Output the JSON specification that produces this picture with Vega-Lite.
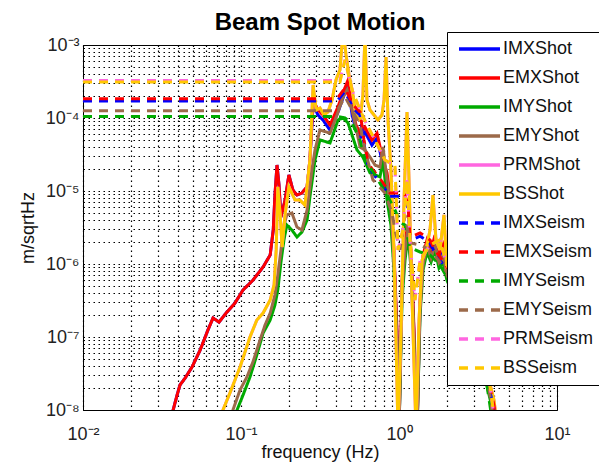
{
"$schema":"https://vega.github.io/schema/vega-lite/v6.json",
"autosize":{"type":"none"},
"padding":{"left":83,"top":45,"right":42,"bottom":53},
"width":474,"height":365,
"background":"#ffffff",
"title":{"text":"Beam Spot Motion","fontSize":24,"fontWeight":"bold","font":"Liberation Sans","color":"#000000","offset":17,"dy":20,"anchor":"middle"},
"config":{"view":{"stroke":"#000000","strokeWidth":1},
"axis":{"labelFont":"Liberation Sans","titleFont":"Liberation Sans","labelFontSize":18,"titleFontSize":18,"titleFontWeight":"normal","labelColor":"#222222","titleColor":"#111111","domainColor":"#000000","grid":true,"gridColor":"#000000","gridOpacity":1,"gridDash":[1.5,3.5],"gridWidth":1.2,"ticks":false,"tickSize":0,"labelOverlap":false,"labelFlush":false,"labelBound":false}},
"data":{"values":[
{"s":"IMXShot","f":0.0356,"v":6e-9},{"s":"IMXShot","f":0.0372,"v":1e-8},{"s":"IMXShot","f":0.0394,"v":1.6e-8},{"s":"IMXShot","f":0.0411,"v":2.2e-8},{"s":"IMXShot","f":0.0443,"v":2.74e-8},{"s":"IMXShot","f":0.049,"v":3.88e-8},{"s":"IMXShot","f":0.0551,"v":6.6e-8},{"s":"IMXShot","f":0.0618,"v":1.25e-7},{"s":"IMXShot","f":0.0665,"v":1.82e-7},{"s":"IMXShot","f":0.0726,"v":1.6e-7},{"s":"IMXShot","f":0.0815,"v":2.2e-7},{"s":"IMXShot","f":0.0916,"v":2.92e-7},{"s":"IMXShot","f":0.103,"v":4.4e-7},{"s":"IMXShot","f":0.119,"v":6e-7},{"s":"IMXShot","f":0.138,"v":9.1e-7},{"s":"IMXShot","f":0.153,"v":1.33e-6},{"s":"IMXShot","f":0.16,"v":2.92e-6},{"s":"IMXShot","f":0.164,"v":8.8e-6},{"s":"IMXShot","f":0.169,"v":2.27e-5},{"s":"IMXShot","f":0.174,"v":1.2e-5},{"s":"IMXShot","f":0.179,"v":4.4e-6},{"s":"IMXShot","f":0.19,"v":7.5e-6},{"s":"IMXShot","f":0.201,"v":1.66e-5},{"s":"IMXShot","f":0.213,"v":1.03e-5},{"s":"IMXShot","f":0.226,"v":8.8e-6},{"s":"IMXShot","f":0.243,"v":9.4e-6},{"s":"IMXShot","f":0.262,"v":1.14e-5},{"s":"IMXShot","f":0.273,"v":2.66e-5},{"s":"IMXShot","f":0.286,"v":1.5e-4},{"s":"IMXShot","f":0.307,"v":1.1e-4},{"s":"IMXShot","f":0.33,"v":9.4e-5},{"s":"IMXShot","f":0.366,"v":6.8e-5},{"s":"IMXShot","f":0.411,"v":1.2e-4},{"s":"IMXShot","f":0.449,"v":2.06e-4},{"s":"IMXShot","f":0.476,"v":2.8e-4},{"s":"IMXShot","f":0.505,"v":1.1e-4},{"s":"IMXShot","f":0.535,"v":6.8e-5},{"s":"IMXShot","f":0.567,"v":5.3e-5},{"s":"IMXShot","f":0.609,"v":6.4e-5},{"s":"IMXShot","f":0.674,"v":4.25e-5},{"s":"IMXShot","f":0.726,"v":5.3e-5},{"s":"IMXShot","f":0.792,"v":2.26e-5},{"s":"IMXShot","f":0.84,"v":1.5e-5},{"s":"IMXShot","f":0.889,"v":6.4e-6},{"s":"IMXShot","f":0.929,"v":1.33e-6},{"s":"IMXShot","f":0.971,"v":1.06e-7},{"s":"IMXShot","f":1.0,"v":5e-9},{"s":"IMXShot","f":1.045,"v":5.1e-7},{"s":"IMXShot","f":1.092,"v":1.8e-6},{"s":"IMXShot","f":1.14,"v":2.9e-6},{"s":"IMXShot","f":1.191,"v":1.33e-6},{"s":"IMXShot","f":1.245,"v":1.06e-7},{"s":"IMXShot","f":1.3,"v":5e-9},{"s":"IMXShot","f":1.359,"v":2.73e-7},{"s":"IMXShot","f":1.42,"v":1.13e-6},{"s":"IMXShot","f":1.504,"v":1.8e-6},{"s":"IMXShot","f":1.595,"v":1.33e-6},{"s":"IMXShot","f":1.69,"v":2.12e-6},{"s":"IMXShot","f":1.791,"v":1.13e-6},{"s":"IMXShot","f":1.898,"v":1.55e-6},{"s":"IMXShot","f":2.01,"v":8.2e-7},{"s":"IMXShot","f":2.16,"v":5.1e-7},{"s":"IMXShot","f":2.43,"v":2.73e-7},{"s":"IMXShot","f":2.81,"v":1.45e-7},{"s":"IMXShot","f":3.26,"v":7.7e-8},{"s":"IMXShot","f":3.66,"v":2.55e-8},{"s":"IMXShot","f":3.93,"v":1.16e-8},{"s":"IMXShot","f":4.17,"v":5e-9},

{"s":"EMXShot","f":0.0356,"v":6e-9},{"s":"EMXShot","f":0.0372,"v":1e-8},{"s":"EMXShot","f":0.0394,"v":1.6e-8},{"s":"EMXShot","f":0.0411,"v":2.2e-8},{"s":"EMXShot","f":0.0443,"v":2.74e-8},{"s":"EMXShot","f":0.049,"v":3.88e-8},{"s":"EMXShot","f":0.0551,"v":6.6e-8},{"s":"EMXShot","f":0.0618,"v":1.25e-7},{"s":"EMXShot","f":0.0665,"v":1.82e-7},{"s":"EMXShot","f":0.0726,"v":1.6e-7},{"s":"EMXShot","f":0.0815,"v":2.2e-7},{"s":"EMXShot","f":0.0916,"v":2.92e-7},{"s":"EMXShot","f":0.103,"v":4.4e-7},{"s":"EMXShot","f":0.119,"v":6e-7},{"s":"EMXShot","f":0.138,"v":9.1e-7},{"s":"EMXShot","f":0.153,"v":1.33e-6},{"s":"EMXShot","f":0.16,"v":2.92e-6},{"s":"EMXShot","f":0.164,"v":8.8e-6},{"s":"EMXShot","f":0.169,"v":2.27e-5},{"s":"EMXShot","f":0.174,"v":1.2e-5},{"s":"EMXShot","f":0.179,"v":4.4e-6},{"s":"EMXShot","f":0.19,"v":7.5e-6},{"s":"EMXShot","f":0.201,"v":1.66e-5},{"s":"EMXShot","f":0.213,"v":1.03e-5},{"s":"EMXShot","f":0.226,"v":8.8e-6},{"s":"EMXShot","f":0.243,"v":9.4e-6},{"s":"EMXShot","f":0.262,"v":1.14e-5},{"s":"EMXShot","f":0.273,"v":2.66e-5},{"s":"EMXShot","f":0.286,"v":1.77e-4},{"s":"EMXShot","f":0.307,"v":1.29e-4},{"s":"EMXShot","f":0.33,"v":1.1e-4},{"s":"EMXShot","f":0.366,"v":8e-5},{"s":"EMXShot","f":0.411,"v":1.42e-4},{"s":"EMXShot","f":0.449,"v":2.42e-4},{"s":"EMXShot","f":0.476,"v":3.32e-4},{"s":"EMXShot","f":0.505,"v":1.29e-4},{"s":"EMXShot","f":0.535,"v":8e-5},{"s":"EMXShot","f":0.567,"v":6.2e-5},{"s":"EMXShot","f":0.609,"v":7.5e-5},{"s":"EMXShot","f":0.674,"v":5e-5},{"s":"EMXShot","f":0.726,"v":6.2e-5},{"s":"EMXShot","f":0.792,"v":2.66e-5},{"s":"EMXShot","f":0.84,"v":1.77e-5},{"s":"EMXShot","f":0.889,"v":7.5e-6},{"s":"EMXShot","f":0.929,"v":1.56e-6},{"s":"EMXShot","f":0.971,"v":1.25e-7},{"s":"EMXShot","f":1.0,"v":5e-9},{"s":"EMXShot","f":1.045,"v":6e-7},{"s":"EMXShot","f":1.092,"v":2.13e-6},{"s":"EMXShot","f":1.14,"v":3.42e-6},{"s":"EMXShot","f":1.191,"v":1.56e-6},{"s":"EMXShot","f":1.245,"v":1.25e-7},{"s":"EMXShot","f":1.3,"v":5e-9},{"s":"EMXShot","f":1.359,"v":3.21e-7},{"s":"EMXShot","f":1.42,"v":1.33e-6},{"s":"EMXShot","f":1.504,"v":2.13e-6},{"s":"EMXShot","f":1.595,"v":1.56e-6},{"s":"EMXShot","f":1.69,"v":2.49e-6},{"s":"EMXShot","f":1.791,"v":1.33e-6},{"s":"EMXShot","f":1.898,"v":1.82e-6},{"s":"EMXShot","f":2.01,"v":9.7e-7},{"s":"EMXShot","f":2.16,"v":6e-7},{"s":"EMXShot","f":2.43,"v":3.21e-7},{"s":"EMXShot","f":2.81,"v":1.71e-7},{"s":"EMXShot","f":3.26,"v":9.1e-8},{"s":"EMXShot","f":3.66,"v":3e-8},{"s":"EMXShot","f":3.93,"v":1.37e-8},{"s":"EMXShot","f":4.17,"v":5e-9},

{"s":"IMYShot","f":0.0904,"v":5e-9},{"s":"IMYShot","f":0.0944,"v":1e-8},{"s":"IMYShot","f":0.103,"v":1.6e-8},{"s":"IMYShot","f":0.114,"v":2.83e-8},{"s":"IMYShot","f":0.126,"v":5.7e-8},{"s":"IMYShot","f":0.138,"v":1.13e-7},{"s":"IMYShot","f":0.153,"v":1.71e-7},{"s":"IMYShot","f":0.164,"v":2.74e-7},{"s":"IMYShot","f":0.171,"v":4.4e-7},{"s":"IMYShot","f":0.179,"v":1.06e-6},{"s":"IMYShot","f":0.187,"v":2.13e-6},{"s":"IMYShot","f":0.195,"v":3.42e-6},{"s":"IMYShot","f":0.21,"v":2.92e-6},{"s":"IMYShot","f":0.226,"v":2.34e-6},{"s":"IMYShot","f":0.243,"v":2.74e-6},{"s":"IMYShot","f":0.262,"v":4e-6},{"s":"IMYShot","f":0.273,"v":8.3e-6},{"s":"IMYShot","f":0.294,"v":2.66e-5},{"s":"IMYShot","f":0.316,"v":5e-5},{"s":"IMYShot","f":0.366,"v":4.55e-5},{"s":"IMYShot","f":0.411,"v":9.4e-5},{"s":"IMYShot","f":0.443,"v":1e-4},{"s":"IMYShot","f":0.476,"v":8.55e-5},{"s":"IMYShot","f":0.542,"v":3.65e-5},{"s":"IMYShot","f":0.591,"v":2.92e-5},{"s":"IMYShot","f":0.655,"v":1.77e-5},{"s":"IMYShot","f":0.758,"v":1.56e-5},{"s":"IMYShot","f":0.792,"v":2.66e-5},{"s":"IMYShot","f":0.84,"v":7.5e-6},{"s":"IMYShot","f":0.889,"v":3.42e-6},{"s":"IMYShot","f":0.929,"v":8.3e-7},{"s":"IMYShot","f":0.971,"v":7.8e-8},{"s":"IMYShot","f":1.0,"v":5e-9},{"s":"IMYShot","f":1.045,"v":3.21e-7},{"s":"IMYShot","f":1.092,"v":1.13e-6},{"s":"IMYShot","f":1.14,"v":2.49e-6},{"s":"IMYShot","f":1.191,"v":8.8e-7},{"s":"IMYShot","f":1.245,"v":7.8e-8},{"s":"IMYShot","f":1.3,"v":5e-9},{"s":"IMYShot","f":1.359,"v":2e-7},{"s":"IMYShot","f":1.42,"v":8.3e-7},{"s":"IMYShot","f":1.504,"v":1.46e-6},{"s":"IMYShot","f":1.595,"v":1.06e-6},{"s":"IMYShot","f":1.69,"v":1.56e-6},{"s":"IMYShot","f":1.791,"v":8.8e-7},{"s":"IMYShot","f":1.898,"v":1.06e-6},{"s":"IMYShot","f":2.01,"v":6e-7},{"s":"IMYShot","f":2.43,"v":2.34e-7},{"s":"IMYShot","f":2.81,"v":1.25e-7},{"s":"IMYShot","f":3.26,"v":5.7e-8},{"s":"IMYShot","f":3.6,"v":2.2e-8},{"s":"IMYShot","f":3.88,"v":1.06e-8},{"s":"IMYShot","f":4.05,"v":5e-9},

{"s":"EMYShot","f":0.0865,"v":5e-9},{"s":"EMYShot","f":0.0889,"v":1e-8},{"s":"EMYShot","f":0.0986,"v":1.88e-8},{"s":"EMYShot","f":0.109,"v":2.83e-8},{"s":"EMYShot","f":0.119,"v":4.55e-8},{"s":"EMYShot","f":0.132,"v":9.1e-8},{"s":"EMYShot","f":0.142,"v":1.46e-7},{"s":"EMYShot","f":0.153,"v":2.13e-7},{"s":"EMYShot","f":0.164,"v":3.76e-7},{"s":"EMYShot","f":0.171,"v":7.1e-7},{"s":"EMYShot","f":0.179,"v":1.56e-6},{"s":"EMYShot","f":0.187,"v":3.42e-6},{"s":"EMYShot","f":0.195,"v":4.7e-6},{"s":"EMYShot","f":0.21,"v":5e-6},{"s":"EMYShot","f":0.226,"v":3.21e-6},{"s":"EMYShot","f":0.243,"v":2.92e-6},{"s":"EMYShot","f":0.262,"v":5.5e-6},{"s":"EMYShot","f":0.281,"v":1.94e-5},{"s":"EMYShot","f":0.294,"v":3.65e-5},{"s":"EMYShot","f":0.316,"v":6.85e-5},{"s":"EMYShot","f":0.366,"v":6.2e-5},{"s":"EMYShot","f":0.405,"v":1.1e-4},{"s":"EMYShot","f":0.443,"v":1.94e-4},{"s":"EMYShot","f":0.469,"v":2.42e-4},{"s":"EMYShot","f":0.505,"v":1.29e-4},{"s":"EMYShot","f":0.567,"v":4e-5},{"s":"EMYShot","f":0.609,"v":3.65e-5},{"s":"EMYShot","f":0.655,"v":2.92e-5},{"s":"EMYShot","f":0.705,"v":2.27e-5},{"s":"EMYShot","f":0.758,"v":2.13e-5},{"s":"EMYShot","f":0.792,"v":4e-5},{"s":"EMYShot","f":0.84,"v":1.42e-5},{"s":"EMYShot","f":0.889,"v":5.5e-6},{"s":"EMYShot","f":0.929,"v":1.13e-6},{"s":"EMYShot","f":0.971,"v":9.1e-8},{"s":"EMYShot","f":1.0,"v":5e-9},{"s":"EMYShot","f":1.045,"v":4.4e-7},{"s":"EMYShot","f":1.092,"v":1.56e-6},{"s":"EMYShot","f":1.14,"v":3.11e-6},{"s":"EMYShot","f":1.191,"v":1.13e-6},{"s":"EMYShot","f":1.245,"v":9.1e-8},{"s":"EMYShot","f":1.3,"v":5e-9},{"s":"EMYShot","f":1.359,"v":2.34e-7},{"s":"EMYShot","f":1.42,"v":9.7e-7},{"s":"EMYShot","f":1.504,"v":1.82e-6},{"s":"EMYShot","f":1.595,"v":1.21e-6},{"s":"EMYShot","f":1.69,"v":1.82e-6},{"s":"EMYShot","f":1.791,"v":1.06e-6},{"s":"EMYShot","f":1.898,"v":1.33e-6},{"s":"EMYShot","f":2.01,"v":7.1e-7},{"s":"EMYShot","f":2.43,"v":2.74e-7},{"s":"EMYShot","f":2.81,"v":1.46e-7},{"s":"EMYShot","f":3.26,"v":6.6e-8},{"s":"EMYShot","f":3.66,"v":2.58e-8},{"s":"EMYShot","f":3.88,"v":1.17e-8},{"s":"EMYShot","f":4.05,"v":5e-9},

{"s":"PRMShot","f":0.0747,"v":5e-9},{"s":"PRMShot","f":0.0769,"v":1e-8},{"s":"PRMShot","f":0.0851,"v":1.71e-8},{"s":"PRMShot","f":0.0986,"v":3.88e-8},{"s":"PRMShot","f":0.114,"v":1e-7},{"s":"PRMShot","f":0.126,"v":1.71e-7},{"s":"PRMShot","f":0.138,"v":2.13e-7},{"s":"PRMShot","f":0.153,"v":3.21e-7},{"s":"PRMShot","f":0.162,"v":5.2e-7},{"s":"PRMShot","f":0.167,"v":1.56e-6},{"s":"PRMShot","f":0.171,"v":1.14e-5},{"s":"PRMShot","f":0.177,"v":4.7e-6},{"s":"PRMShot","f":0.182,"v":1.71e-6},{"s":"PRMShot","f":0.19,"v":4.7e-6},{"s":"PRMShot","f":0.201,"v":1.14e-5},{"s":"PRMShot","f":0.22,"v":7.5e-6},{"s":"PRMShot","f":0.236,"v":7.5e-6},{"s":"PRMShot","f":0.254,"v":6.4e-6},{"s":"PRMShot","f":0.273,"v":2.66e-5},{"s":"PRMShot","f":0.286,"v":2.83e-4},{"s":"PRMShot","f":0.299,"v":1.29e-4},{"s":"PRMShot","f":0.316,"v":1.37e-4},{"s":"PRMShot","f":0.335,"v":1.1e-4},{"s":"PRMShot","f":0.355,"v":1.21e-4},{"s":"PRMShot","f":0.377,"v":1.77e-4},{"s":"PRMShot","f":0.399,"v":3.32e-4},{"s":"PRMShot","f":0.423,"v":4.55e-4},{"s":"PRMShot","f":0.443,"v":1.6e-3},{"s":"PRMShot","f":0.462,"v":7.3e-4},{"s":"PRMShot","f":0.483,"v":3.88e-4},{"s":"PRMShot","f":0.505,"v":2.42e-4},{"s":"PRMShot","f":0.535,"v":1.1e-4},{"s":"PRMShot","f":0.567,"v":9.4e-5},{"s":"PRMShot","f":0.591,"v":2.07e-4},{"s":"PRMShot","f":0.609,"v":1.37e-3},{"s":"PRMShot","f":0.627,"v":1.77e-4},{"s":"PRMShot","f":0.655,"v":1.29e-4},{"s":"PRMShot","f":0.695,"v":1.1e-4},{"s":"PRMShot","f":0.736,"v":9.4e-5},{"s":"PRMShot","f":0.78,"v":1.1e-4},{"s":"PRMShot","f":0.804,"v":1.77e-4},{"s":"PRMShot","f":0.828,"v":6.86e-4},{"s":"PRMShot","f":0.852,"v":9.4e-5},{"s":"PRMShot","f":0.889,"v":1.94e-5},{"s":"PRMShot","f":0.929,"v":1.56e-6},{"s":"PRMShot","f":0.986,"v":5e-9},{"s":"PRMShot","f":1.03,"v":1.25e-7},{"s":"PRMShot","f":1.076,"v":7.5e-6},{"s":"PRMShot","f":1.124,"v":1.21e-4},{"s":"PRMShot","f":1.157,"v":1.42e-5},{"s":"PRMShot","f":1.21,"v":3.21e-7},{"s":"PRMShot","f":1.282,"v":5e-9},{"s":"PRMShot","f":1.339,"v":1.71e-7},{"s":"PRMShot","f":1.4,"v":1.13e-6},{"s":"PRMShot","f":1.483,"v":1.56e-6},{"s":"PRMShot","f":1.571,"v":2.92e-6},{"s":"PRMShot","f":1.64,"v":8.8e-6},{"s":"PRMShot","f":1.714,"v":2.13e-6},{"s":"PRMShot","f":1.816,"v":1.56e-6},{"s":"PRMShot","f":1.926,"v":4.7e-6},{"s":"PRMShot","f":2.01,"v":8.3e-7},{"s":"PRMShot","f":2.43,"v":4.4e-7},{"s":"PRMShot","f":2.81,"v":2e-7},{"s":"PRMShot","f":3.26,"v":7.8e-8},{"s":"PRMShot","f":3.71,"v":2.58e-8},{"s":"PRMShot","f":3.99,"v":1.37e-8},{"s":"PRMShot","f":4.24,"v":5e-9},

{"s":"BSShot","f":0.0747,"v":5e-9},{"s":"BSShot","f":0.0769,"v":1e-8},{"s":"BSShot","f":0.0851,"v":1.71e-8},{"s":"BSShot","f":0.0986,"v":3.88e-8},{"s":"BSShot","f":0.114,"v":1e-7},{"s":"BSShot","f":0.126,"v":1.71e-7},{"s":"BSShot","f":0.138,"v":2.13e-7},{"s":"BSShot","f":0.153,"v":3.21e-7},{"s":"BSShot","f":0.162,"v":5.2e-7},{"s":"BSShot","f":0.167,"v":1.56e-6},{"s":"BSShot","f":0.171,"v":1.14e-5},{"s":"BSShot","f":0.177,"v":4.7e-6},{"s":"BSShot","f":0.182,"v":1.71e-6},{"s":"BSShot","f":0.19,"v":4.7e-6},{"s":"BSShot","f":0.201,"v":1.14e-5},{"s":"BSShot","f":0.22,"v":7.5e-6},{"s":"BSShot","f":0.236,"v":7.5e-6},{"s":"BSShot","f":0.254,"v":6.4e-6},{"s":"BSShot","f":0.273,"v":2.66e-5},{"s":"BSShot","f":0.286,"v":2.83e-4},{"s":"BSShot","f":0.299,"v":1.29e-4},{"s":"BSShot","f":0.316,"v":1.37e-4},{"s":"BSShot","f":0.335,"v":1.1e-4},{"s":"BSShot","f":0.355,"v":1.21e-4},{"s":"BSShot","f":0.377,"v":1.77e-4},{"s":"BSShot","f":0.399,"v":3.32e-4},{"s":"BSShot","f":0.423,"v":4.55e-4},{"s":"BSShot","f":0.443,"v":1.6e-3},{"s":"BSShot","f":0.462,"v":7.3e-4},{"s":"BSShot","f":0.483,"v":3.88e-4},{"s":"BSShot","f":0.505,"v":2.42e-4},{"s":"BSShot","f":0.535,"v":1.1e-4},{"s":"BSShot","f":0.567,"v":9.4e-5},{"s":"BSShot","f":0.591,"v":2.07e-4},{"s":"BSShot","f":0.609,"v":1.37e-3},{"s":"BSShot","f":0.627,"v":1.77e-4},{"s":"BSShot","f":0.655,"v":1.29e-4},{"s":"BSShot","f":0.695,"v":1.1e-4},{"s":"BSShot","f":0.736,"v":9.4e-5},{"s":"BSShot","f":0.78,"v":1.1e-4},{"s":"BSShot","f":0.804,"v":1.77e-4},{"s":"BSShot","f":0.828,"v":6.86e-4},{"s":"BSShot","f":0.852,"v":9.4e-5},{"s":"BSShot","f":0.889,"v":1.94e-5},{"s":"BSShot","f":0.929,"v":1.56e-6},{"s":"BSShot","f":0.986,"v":5e-9},{"s":"BSShot","f":1.03,"v":1.25e-7},{"s":"BSShot","f":1.076,"v":7.5e-6},{"s":"BSShot","f":1.124,"v":1.21e-4},{"s":"BSShot","f":1.157,"v":1.42e-5},{"s":"BSShot","f":1.21,"v":3.21e-7},{"s":"BSShot","f":1.282,"v":5e-9},{"s":"BSShot","f":1.339,"v":1.71e-7},{"s":"BSShot","f":1.4,"v":1.13e-6},{"s":"BSShot","f":1.483,"v":1.56e-6},{"s":"BSShot","f":1.571,"v":2.92e-6},{"s":"BSShot","f":1.64,"v":8.8e-6},{"s":"BSShot","f":1.714,"v":2.13e-6},{"s":"BSShot","f":1.816,"v":1.56e-6},{"s":"BSShot","f":1.926,"v":4.7e-6},{"s":"BSShot","f":2.01,"v":8.3e-7},{"s":"BSShot","f":2.43,"v":4.4e-7},{"s":"BSShot","f":2.81,"v":2e-7},{"s":"BSShot","f":3.26,"v":7.8e-8},{"s":"BSShot","f":3.71,"v":2.58e-8},{"s":"BSShot","f":3.99,"v":1.37e-8},{"s":"BSShot","f":4.24,"v":5e-9},

{"s":"IMXSeism","f":0.01,"v":1.71e-4},{"s":"IMXSeism","f":0.405,"v":1.71e-4},{"s":"IMXSeism","f":0.455,"v":2.32e-4},{"s":"IMXSeism","f":0.512,"v":1.36e-4},{"s":"IMXSeism","f":0.567,"v":1.09e-4},{"s":"IMXSeism","f":0.6,"v":4.5e-5},{"s":"IMXSeism","f":0.637,"v":2.18e-5},{"s":"IMXSeism","f":0.684,"v":1.75e-5},{"s":"IMXSeism","f":0.792,"v":1.16e-5},{"s":"IMXSeism","f":0.877,"v":8.5e-6},{"s":"IMXSeism","f":0.971,"v":8.5e-6},{"s":"IMXSeism","f":1.092,"v":7.9e-6},{"s":"IMXSeism","f":1.14,"v":5.8e-6},{"s":"IMXSeism","f":1.174,"v":2.1e-6},{"s":"IMXSeism","f":1.262,"v":2.24e-6},{"s":"IMXSeism","f":1.359,"v":2.4e-6},{"s":"IMXSeism","f":1.461,"v":2.18e-6},{"s":"IMXSeism","f":1.571,"v":1.92e-6},{"s":"IMXSeism","f":1.69,"v":1.4e-6},{"s":"IMXSeism","f":1.816,"v":1.13e-6},{"s":"IMXSeism","f":2.01,"v":8.2e-7},{"s":"IMXSeism","f":2.43,"v":4e-7},{"s":"IMXSeism","f":3.03,"v":1.13e-7},{"s":"IMXSeism","f":3.66,"v":2.3e-8},{"s":"IMXSeism","f":3.99,"v":1.05e-8},{"s":"IMXSeism","f":4.17,"v":5e-9},

{"s":"EMXSeism","f":0.01,"v":1.84e-4},{"s":"EMXSeism","f":0.405,"v":1.84e-4},{"s":"EMXSeism","f":0.455,"v":2.58e-4},{"s":"EMXSeism","f":0.512,"v":1.51e-4},{"s":"EMXSeism","f":0.567,"v":1.21e-4},{"s":"EMXSeism","f":0.6,"v":5e-5},{"s":"EMXSeism","f":0.637,"v":2.42e-5},{"s":"EMXSeism","f":0.684,"v":1.94e-5},{"s":"EMXSeism","f":0.792,"v":1.29e-5},{"s":"EMXSeism","f":0.877,"v":9.4e-6},{"s":"EMXSeism","f":0.971,"v":9.4e-6},{"s":"EMXSeism","f":1.092,"v":8.8e-6},{"s":"EMXSeism","f":1.14,"v":6.4e-6},{"s":"EMXSeism","f":1.174,"v":2.34e-6},{"s":"EMXSeism","f":1.262,"v":2.49e-6},{"s":"EMXSeism","f":1.359,"v":2.66e-6},{"s":"EMXSeism","f":1.461,"v":2.42e-6},{"s":"EMXSeism","f":1.571,"v":2.13e-6},{"s":"EMXSeism","f":1.69,"v":1.56e-6},{"s":"EMXSeism","f":1.816,"v":1.25e-6},{"s":"EMXSeism","f":2.01,"v":9.1e-7},{"s":"EMXSeism","f":2.43,"v":4.4e-7},{"s":"EMXSeism","f":3.03,"v":1.25e-7},{"s":"EMXSeism","f":3.66,"v":2.58e-8},{"s":"EMXSeism","f":3.99,"v":1.17e-8},{"s":"EMXSeism","f":4.17,"v":5e-9},

{"s":"IMYSeism","f":0.01,"v":1.05e-4},{"s":"IMYSeism","f":0.405,"v":1.05e-4},{"s":"IMYSeism","f":0.455,"v":1e-4},{"s":"IMYSeism","f":0.505,"v":8.5e-5},{"s":"IMYSeism","f":0.567,"v":5e-5},{"s":"IMYSeism","f":0.609,"v":2.66e-5},{"s":"IMYSeism","f":0.705,"v":1.66e-5},{"s":"IMYSeism","f":0.84,"v":8.8e-6},{"s":"IMYSeism","f":0.943,"v":5.5e-6},{"s":"IMYSeism","f":1.014,"v":3.7e-6},{"s":"IMYSeism","f":1.092,"v":3.42e-6},{"s":"IMYSeism","f":1.174,"v":1.67e-6},{"s":"IMYSeism","f":1.359,"v":1.46e-6},{"s":"IMYSeism","f":1.571,"v":1.33e-6},{"s":"IMYSeism","f":1.816,"v":9.7e-7},{"s":"IMYSeism","f":2.01,"v":6.6e-7},{"s":"IMYSeism","f":2.43,"v":2.74e-7},{"s":"IMYSeism","f":3.03,"v":9.1e-8},{"s":"IMYSeism","f":3.6,"v":2.2e-8},{"s":"IMYSeism","f":3.99,"v":5e-9},

{"s":"EMYSeism","f":0.01,"v":1.26e-4},{"s":"EMYSeism","f":0.405,"v":1.26e-4},{"s":"EMYSeism","f":0.455,"v":1.94e-4},{"s":"EMYSeism","f":0.505,"v":1.29e-4},{"s":"EMYSeism","f":0.567,"v":8e-5},{"s":"EMYSeism","f":0.609,"v":3.65e-5},{"s":"EMYSeism","f":0.684,"v":1.42e-5},{"s":"EMYSeism","f":0.815,"v":9.4e-6},{"s":"EMYSeism","f":0.903,"v":5e-6},{"s":"EMYSeism","f":0.943,"v":2.92e-6},{"s":"EMYSeism","f":1.014,"v":1.56e-6},{"s":"EMYSeism","f":1.092,"v":4.7e-6},{"s":"EMYSeism","f":1.174,"v":1.95e-6},{"s":"EMYSeism","f":1.359,"v":1.82e-6},{"s":"EMYSeism","f":1.571,"v":1.56e-6},{"s":"EMYSeism","f":1.816,"v":1.06e-6},{"s":"EMYSeism","f":2.01,"v":7.7e-7},{"s":"EMYSeism","f":2.43,"v":3.21e-7},{"s":"EMYSeism","f":3.03,"v":1.06e-7},{"s":"EMYSeism","f":3.66,"v":2.45e-8},{"s":"EMYSeism","f":4.05,"v":5e-9},

{"s":"PRMSeism","f":0.01,"v":3.27e-4},{"s":"PRMSeism","f":0.423,"v":3.27e-4},{"s":"PRMSeism","f":0.455,"v":6.24e-4},{"s":"PRMSeism","f":0.505,"v":2.42e-4},{"s":"PRMSeism","f":0.567,"v":1.29e-4},{"s":"PRMSeism","f":0.627,"v":8e-5},{"s":"PRMSeism","f":0.705,"v":5e-5},{"s":"PRMSeism","f":0.815,"v":2.66e-5},{"s":"PRMSeism","f":0.877,"v":2.42e-5},{"s":"PRMSeism","f":0.943,"v":2.27e-5},{"s":"PRMSeism","f":0.986,"v":1.56e-6},{"s":"PRMSeism","f":1.059,"v":2.92e-6},{"s":"PRMSeism","f":1.124,"v":1.42e-5},{"s":"PRMSeism","f":1.174,"v":2.13e-6},{"s":"PRMSeism","f":1.262,"v":3.21e-7},{"s":"PRMSeism","f":1.359,"v":1.13e-6},{"s":"PRMSeism","f":1.571,"v":1.82e-6},{"s":"PRMSeism","f":1.816,"v":2.13e-6},{"s":"PRMSeism","f":2.01,"v":9.7e-7},{"s":"PRMSeism","f":2.43,"v":4.7e-7},{"s":"PRMSeism","f":3.03,"v":1.46e-7},{"s":"PRMSeism","f":3.71,"v":2.8e-8},{"s":"PRMSeism","f":4.11,"v":5e-9},

{"s":"BSSeism","f":0.01,"v":3.11e-4},{"s":"BSSeism","f":0.423,"v":3.11e-4},{"s":"BSSeism","f":0.455,"v":6.24e-4},{"s":"BSSeism","f":0.505,"v":2.42e-4},{"s":"BSSeism","f":0.567,"v":1.29e-4},{"s":"BSSeism","f":0.627,"v":8e-5},{"s":"BSSeism","f":0.705,"v":5e-5},{"s":"BSSeism","f":0.815,"v":2.66e-5},{"s":"BSSeism","f":0.877,"v":2.42e-5},{"s":"BSSeism","f":0.943,"v":2.27e-5},{"s":"BSSeism","f":0.986,"v":1.56e-6},{"s":"BSSeism","f":1.059,"v":2.92e-6},{"s":"BSSeism","f":1.124,"v":1.42e-5},{"s":"BSSeism","f":1.174,"v":2.13e-6},{"s":"BSSeism","f":1.262,"v":3.21e-7},{"s":"BSSeism","f":1.359,"v":1.13e-6},{"s":"BSSeism","f":1.571,"v":1.82e-6},{"s":"BSSeism","f":1.816,"v":2.13e-6},{"s":"BSSeism","f":2.01,"v":9.7e-7},{"s":"BSSeism","f":2.43,"v":4.7e-7},{"s":"BSSeism","f":3.03,"v":1.46e-7},{"s":"BSSeism","f":3.71,"v":2.8e-8},{"s":"BSSeism","f":4.11,"v":5e-9}
]},
"mark":{"type":"line","strokeWidth":3,"clip":true},
"encoding":{
"x":{"field":"f","type":"quantitative","scale":{"type":"log","domain":[0.01,10],"nice":false},
"axis":{"title":"frequency (Hz)","values":[0.01,0.02,0.03,0.04,0.05,0.06,0.07,0.08,0.09,0.1,0.2,0.3,0.4,0.5,0.6,0.7,0.8,0.9,1,2,3,4,5,6,7,8,9,10],"labelExpr":"datum.value==0.01?'10⁻²':datum.value==0.1?'10⁻¹':datum.value==1?'10⁰':datum.value==10?'10¹':''","labelPadding":15,"titlePadding":0}},
"y":{"field":"v","type":"quantitative","scale":{"type":"log","domain":[1e-8,1e-3],"nice":false},
"axis":{"title":"m/sqrtHz","values":[1e-8,2e-8,3e-8,4e-8,5e-8,6e-8,7e-8,8e-8,9e-8,1e-7,2e-7,3e-7,4e-7,5e-7,6e-7,7e-7,8e-7,9e-7,1e-6,2e-6,3e-6,4e-6,5e-6,6e-6,7e-6,8e-6,9e-6,1e-5,2e-5,3e-5,4e-5,5e-5,6e-5,7e-5,8e-5,9e-5,1e-4,2e-4,3e-4,4e-4,5e-4,6e-4,7e-4,8e-4,9e-4,1e-3],"labelExpr":"datum.value==1e-8?'10⁻⁸':datum.value==1e-7?'10⁻⁷':datum.value==1e-6?'10⁻⁶':datum.value==1e-5?'10⁻⁵':datum.value==1e-4?'10⁻⁴':datum.value==1e-3?'10⁻³':''","labelPadding":4,"titlePadding":8}},
"color":{"field":"s","type":"nominal","sort":null,
"scale":{"domain":["IMXShot","EMXShot","IMYShot","EMYShot","PRMShot","BSShot","IMXSeism","EMXSeism","IMYSeism","EMYSeism","PRMSeism","BSSeism"],
"range":["#0000ff","#ff0000","#00aa00","#9c6a4a","#ff66e0","#ffc800","#0000ff","#ff0000","#00aa00","#9c6a4a","#ff66e0","#ffc800"]},
"legend":{"title":null,"orient":"none","legendX":364,"legendY":-13,"symbolType":"stroke","symbolSize":1681,"symbolStrokeWidth":3.5,"clipHeight":20,"rowPadding":9,"labelFont":"Liberation Sans","labelFontSize":18,"labelColor":"#111111","labelOffset":1,"labelLimit":300,"padding":7,"symbolOffset":3,"fillColor":"#ffffff","strokeColor":"#000000"}},
"strokeDash":{"field":"s","type":"nominal","sort":null,
"scale":{"domain":["IMXShot","EMXShot","IMYShot","EMYShot","PRMShot","BSShot","IMXSeism","EMXSeism","IMYSeism","EMYSeism","PRMSeism","BSSeism"],
"range":[[1,0],[1,0],[1,0],[1,0],[1,0],[1,0],[9,7],[9,7],[9,7],[9,7],[9,7],[9,7]]},
"legend":{"title":null,"orient":"none","legendX":364,"legendY":-13,"symbolType":"stroke","symbolSize":1681,"symbolStrokeWidth":3.5,"clipHeight":20,"rowPadding":9,"labelFont":"Liberation Sans","labelFontSize":18,"labelColor":"#111111","labelOffset":1,"labelLimit":300,"padding":7,"symbolOffset":3,"fillColor":"#ffffff","strokeColor":"#000000"}}
}
}
